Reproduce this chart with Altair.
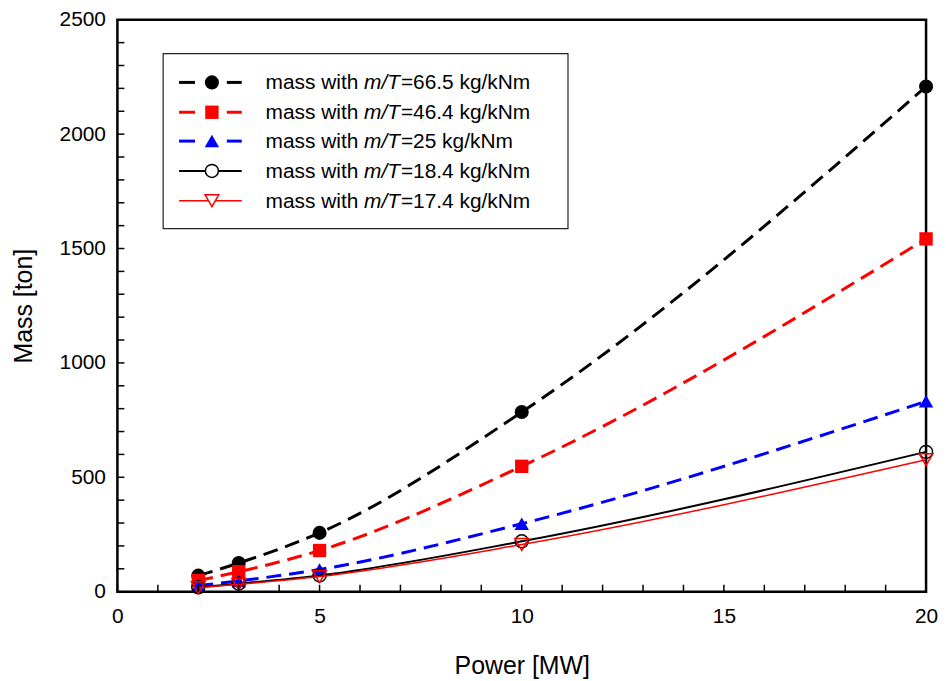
import altair as alt
import pandas as pd

# ---- data ----
power = [2, 3, 5, 10, 20]
mass_665 = [70, 125, 257, 785, 2208]
mass_464 = [49, 87, 180, 548, 1542]
mass_250 = [27, 47, 97, 297, 832]
mass_184 = [19, 35, 71, 220, 611]
mass_174 = [17, 32, 66, 206, 577]

ratios = ["66.5", "46.4", "25", "18.4", "17.4"]
series_values = [mass_665, mass_464, mass_250, mass_184, mass_174]
colors = ["#000000", "#ff0000", "#0000ff", "#000000", "#ff0000"]
shapes = ["circle", "square", "triangle-up", "circle", "triangle-down"]
filled = [True, True, True, False, False]
dashed = [True, True, True, False, False]
line_widths = [3, 3, 3, 2, 1.5]
marker_sizes = [200, 180, 210, 170, 190]

x_ticks = list(range(0, 21))
y_ticks = list(range(0, 2501, 100))
x_labels = [0, 5, 10, 15, 20]
y_labels = [0, 500, 1000, 1500, 2000, 2500]

FONT = "Liberation Sans"
W, H = 813, 575

xs = alt.Scale(domain=[0, 20], nice=False, zero=False)
ys = alt.Scale(domain=[0, 2500], nice=False, zero=False)

x_axis = alt.Axis(values=x_labels, format="d", title="Power [MW]", ticks=False, domain=False, grid=False,
                  labelFontSize=21, labelFont=FONT, labelColor="black", labelPadding=14,
                  labelFlush=False, labelOverlap=False,
                  titleFontSize=25, titleFont=FONT, titleFontWeight="normal", titleColor="black",
                  titlePadding=27)
y_axis = alt.Axis(values=y_labels, format="d", title="Mass [ton]", ticks=False, domain=False, grid=False,
                  labelFontSize=21, labelFont=FONT, labelColor="black", labelPadding=12,
                  labelFlush=False, labelOverlap=False,
                  titleFontSize=25, titleFont=FONT, titleFontWeight="normal", titleColor="black",
                  titlePadding=23)

X = alt.X("P:Q", scale=xs, axis=x_axis)
Y = alt.Y("M:Q", scale=ys, axis=y_axis)

layers = []
for i, (r, vals) in enumerate(zip(ratios, series_values)):
    df = pd.DataFrame({"P": power, "M": vals})
    line_kw = dict(interpolate="monotone", color=colors[i], strokeWidth=line_widths[i])
    if dashed[i]:
        line_kw["strokeDash"] = [15, 8]
    line = alt.Chart(df).mark_line(**line_kw).encode(x=X, y=Y)
    if filled[i]:
        pt = alt.Chart(df).mark_point(shape=shapes[i], filled=True, size=marker_sizes[i],
                                      color=colors[i], opacity=1)
    else:
        pt = alt.Chart(df).mark_point(shape=shapes[i], filled=False, size=marker_sizes[i],
                                      stroke=colors[i], strokeWidth=1.5, opacity=1)
    pt = pt.encode(x=X, y=Y)
    layers += [line, pt]

# inward minor ticks
xt = alt.Chart(pd.DataFrame({"P": x_ticks})).mark_rule(color="black", strokeWidth=1.5).encode(
    x=X, y=alt.value(H), y2=alt.value(H - 7))
yt = alt.Chart(pd.DataFrame({"M": y_ticks})).mark_rule(color="black", strokeWidth=1.5).encode(
    y=Y, x=alt.value(0), x2=alt.value(7))
layers += [xt, yt]

# legend
one = pd.DataFrame({"a": [0]})
layers.append(alt.Chart(one).mark_rect(fill="white", stroke="#222222", strokeWidth=1.2).encode(
    x=alt.value(46), x2=alt.value(453), y=alt.value(34), y2=alt.value(210)))
row_y = [63, 93, 122, 152, 182]
for i, r in enumerate(ratios):
    yv = row_y[i]
    if dashed[i]:
        for a, b in [(62, 78), (110, 125)]:
            layers.append(alt.Chart(one).mark_rule(color=colors[i], strokeWidth=3).encode(
                x=alt.value(a), x2=alt.value(b), y=alt.value(yv)))
    else:
        layers.append(alt.Chart(one).mark_rule(color=colors[i], strokeWidth=line_widths[i]).encode(
            x=alt.value(62), x2=alt.value(125), y=alt.value(yv)))
    if filled[i]:
        m = alt.Chart(one).mark_point(shape=shapes[i], filled=True, size=marker_sizes[i],
                                      color=colors[i], opacity=1)
    else:
        m = alt.Chart(one).mark_point(shape=shapes[i], filled=False, size=marker_sizes[i],
                                      stroke=colors[i], strokeWidth=1.5, fill="white", opacity=1)
    layers.append(m.encode(x=alt.value(95), y=alt.value(yv)))
    pieces = [("mass with ", 149, "normal"), ("m/T", 248, "italic"), ("=" + r + " kg/kNm", 285, "normal")]
    for txt, px, style in pieces:
        layers.append(alt.Chart(one).mark_text(text=txt, align="left", baseline="middle",
                                               fontSize=21, font=FONT, fontStyle=style,
                                               color="black").encode(
            x=alt.value(px), y=alt.value(yv + 1)))

chart = alt.layer(*layers).properties(
    width=W, height=H,
    autosize=alt.AutoSizeParams(type="none"),
    padding={"left": 110, "top": 10, "right": 12, "bottom": 88},
).configure_view(stroke="black", strokeWidth=2.5)

chart.save("out.html", embed_options={"renderer": "svg", "actions": False})
